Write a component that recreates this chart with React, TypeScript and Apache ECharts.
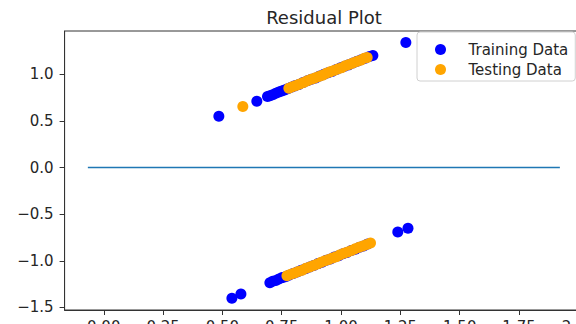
import React, { useEffect, useRef } from "react";
import * as echarts from "echarts";

const xTickValues = [0, 0.25, 0.5, 0.75, 1.0, 1.25, 1.5, 1.75, 2.0];
const yTickValues = [-1.5, -1.0, -0.5, 0.0, 0.5, 1.0];

const trainingUpper: number[][] = [
  [0.485, 0.55], [0.645, 0.71], [0.69, 0.76], [0.7, 0.77], [0.712, 0.78],
  [0.725, 0.795], [0.738, 0.81], [0.75, 0.82], [0.762, 0.83], [0.775, 0.845],
  [0.79, 0.86], [0.805, 0.875], [0.822, 0.89], [0.84, 0.91], [0.858, 0.93],
  [0.875, 0.945], [0.893, 0.96], [0.91, 0.98], [0.928, 1.0], [0.945, 1.015],
  [0.962, 1.03], [0.98, 1.05], [0.998, 1.07], [1.015, 1.085], [1.032, 1.1],
  [1.05, 1.12], [1.068, 1.14], [1.085, 1.155], [1.102, 1.17], [1.12, 1.19],
  [1.134, 1.2], [1.273, 1.34],
];

const trainingLower: number[][] = [
  [0.54, -1.4], [0.578, -1.355], [0.7, -1.235], [0.712, -1.22], [0.725, -1.21],
  [0.738, -1.195], [0.752, -1.18], [0.766, -1.17], [0.78, -1.155], [0.798, -1.135],
  [0.815, -1.12], [0.832, -1.1], [0.85, -1.085], [0.868, -1.065], [0.885, -1.05],
  [0.903, -1.03], [0.92, -1.015], [0.938, -0.995], [0.955, -0.98], [0.972, -0.96],
  [0.99, -0.945], [1.008, -0.925], [1.025, -0.91], [1.043, -0.89], [1.06, -0.875],
  [1.078, -0.855], [1.095, -0.84], [1.112, -0.82], [1.239, -0.69], [1.282, -0.65],
];

const testingUpper: number[][] = [
  [0.586, 0.655], [0.78, 0.85], [0.795, 0.865], [0.81, 0.88], [0.826, 0.895],
  [0.842, 0.91], [0.858, 0.93], [0.874, 0.945], [0.89, 0.96], [0.906, 0.975],
  [0.922, 0.99], [0.938, 1.01], [0.954, 1.025], [0.97, 1.04], [0.986, 1.055],
  [1.002, 1.07], [1.018, 1.09], [1.034, 1.105], [1.05, 1.12], [1.066, 1.135],
  [1.082, 1.15], [1.098, 1.17], [1.11, 1.18],
];

const testingLower: number[][] = [
  [0.772, -1.16], [0.788, -1.145], [0.804, -1.13], [0.82, -1.115], [0.836, -1.1],
  [0.852, -1.08], [0.868, -1.065], [0.884, -1.05], [0.9, -1.035], [0.916, -1.015],
  [0.932, -1.0], [0.948, -0.985], [0.964, -0.97], [0.98, -0.955], [0.996, -0.935],
  [1.012, -0.92], [1.028, -0.905], [1.044, -0.89], [1.06, -0.87], [1.076, -0.855],
  [1.092, -0.84], [1.108, -0.825], [1.124, -0.81],
];

const zeroLine: number[][] = [[-0.067, 0], [1.922, 0]];

const FONT = "DejaVu Sans";
const TEXT = "#262626";
const AXIS = "#333333";

export default function App() {
  const ref = useRef<HTMLDivElement>(null);
  useEffect(() => {
    if (!ref.current) return;
    const chart = echarts.init(ref.current, undefined, { renderer: "svg" });
    chart.setOption({
      animation: false,
      backgroundColor: "#ffffff",
      graphic: [
        {
          type: "text",
          x: 324,
          y: 8,
          style: {
            text: "Residual Plot",
            fontSize: 18,
            fontFamily: FONT,
            fill: TEXT,
            align: "center",
            verticalAlign: "top",
          },
        },
      ],
      grid: {
        left: 64.6,
        top: 31,
        width: 519,
        height: 279,
        show: true,
        borderColor: AXIS,
        borderWidth: 1,
        backgroundColor: "transparent",
        containLabel: false,
        outerBoundsMode: "none",
      },
      legend: {
        orient: "vertical",
        left: 417,
        top: 32,
        padding: [10, 7, 4, 18],
        itemGap: 5,
        itemWidth: 46,
        itemHeight: 11,
        icon: "circle",
        backgroundColor: "#ffffff",
        borderColor: "#d0d0d0",
        borderWidth: 1,
        borderRadius: 3,
        textStyle: { fontSize: 15, fontFamily: FONT, color: TEXT, lineHeight: 15 },
        data: ["Training Data", "Testing Data"],
      },
      xAxis: {
        type: "value",
        min: -0.165,
        max: 2.022,
        axisLine: { show: true, onZero: false, lineStyle: { color: AXIS, width: 1 } },
        axisTick: {
          show: true,
          length: 5,
          lineStyle: { color: AXIS },
          customValues: xTickValues,
        },
        axisLabel: {
          show: true,
          margin: 9,
          fontSize: 15,
          fontFamily: FONT,
          color: TEXT,
          customValues: xTickValues,
          formatter: (v: number) => v.toFixed(2),
        },
        splitLine: { show: false },
      },
      yAxis: {
        type: "value",
        min: -1.527,
        max: 1.463,
        axisLine: { show: true, onZero: false, lineStyle: { color: AXIS, width: 1 } },
        axisTick: {
          show: true,
          length: 5,
          lineStyle: { color: AXIS },
          customValues: yTickValues,
        },
        axisLabel: {
          show: true,
          margin: 11,
          fontSize: 15,
          fontFamily: FONT,
          color: TEXT,
          customValues: yTickValues,
          formatter: (v: number) => (v < 0 ? "\u2212" : "") + Math.abs(v).toFixed(1),
        },
        splitLine: { show: false },
      },
      series: [
        {
          type: "line",
          name: "zero",
          data: zeroLine,
          symbol: "none",
          lineStyle: { color: "#1f77b4", width: 1.5 },
          silent: true,
          z: 1,
        },
        {
          type: "scatter",
          name: "Training Data",
          data: [...trainingUpper, ...trainingLower],
          symbolSize: 11,
          itemStyle: { color: "#0000ff", opacity: 1 },
          z: 2,
        },
        {
          type: "scatter",
          name: "Testing Data",
          data: [...testingUpper, ...testingLower],
          symbolSize: 11,
          itemStyle: { color: "#ffa500", opacity: 1 },
          z: 3,
        },
      ],
    });
    return () => chart.dispose();
  }, []);
  return (
    <div
      ref={ref}
      style={{ position: "fixed", left: 0, top: 0, width: 576, height: 324 }}
    />
  );
}
